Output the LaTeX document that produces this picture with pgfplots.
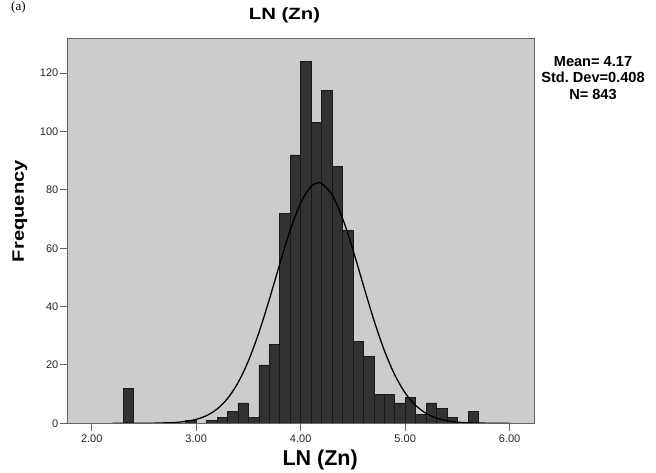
\documentclass[border=0pt]{standalone}
\usepackage{pgfplots}
\pgfplotsset{compat=1.18}
\usepackage{graphicx}
\usepackage{fontspec}
\setmainfont{Liberation Sans}
\newfontfamily\serifa{Liberation Serif}

\definecolor{plotbg}{RGB}{204,204,204}
\definecolor{barfill}{RGB}{50,50,50}
\definecolor{baredge}{RGB}{25,25,25}
\definecolor{frame}{RGB}{100,100,100}

\begin{document}
\begin{tikzpicture}
\begin{axis}[
    at={(68pt,49.7pt)}, anchor=south west,
    scale only axis,
    width=466pt, height=384.3pt,
    xmin=1.773, xmax=6.233,
    ymin=0, ymax=131.7,
    xtick={2,3,4,5,6},
    ytick={0,20,40,60,80,100,120},
    tick pos=left,
    tick align=outside,
    major tick length=8pt,
    tick style={draw=frame, line width=0.9pt},
    axis line style={draw=frame, line width=1pt},
    axis background/.style={fill=plotbg},
    xticklabel={\pgfmathprintnumber[fixed,fixed zerofill,precision=2]{\tick}},
    yticklabel={\pgfmathprintnumber[fixed,precision=0]{\tick}},
    /pgf/number format/assume math mode=true,
    ticklabel style={font=\fontsize{11}{12}\selectfont, text=black!85},
    yticklabel style={inner sep=1.5pt},
    title={\scalebox{1.25}[1]{\fontsize{16.3}{19}\selectfont\bfseries LN (Zn)}},
    title style={at={(axis description cs:0.4646,1.0468)}, anchor=center},
    xlabel={\fontsize{21.5}{24}\selectfont\bfseries LN (Zn)},
    xlabel style={at={(axis description cs:0.541,-0.0955)}, anchor=center},
    ylabel={\scalebox{1.22}[1]{\fontsize{16.5}{19}\selectfont\bfseries Frequency}},
    ylabel style={at={(axis description cs:-0.103,0.552)}, anchor=center},
    axis on top,
]

% histogram, bin width 0.1 (left edge, count); last row closes the interval
\addplot[ybar interval, fill=barfill, draw=baredge, line width=0.6pt] coordinates {
    (2.3,12) (2.4,12)
};
\addplot[ybar interval, fill=barfill, draw=baredge, line width=0.6pt] coordinates {
    (2.9,1) (3.0,1)
};
\addplot[ybar interval, fill=barfill, draw=baredge, line width=0.6pt] coordinates {
    (3.1,1) (3.2,2) (3.3,4) (3.4,7) (3.5,2) (3.6,20) (3.7,27) (3.8,72)
    (3.9,92) (4.0,124) (4.1,103) (4.2,114) (4.3,88) (4.4,66) (4.5,28)
    (4.6,23) (4.7,10) (4.8,10) (4.9,7) (5.0,9) (5.1,3) (5.2,7) (5.3,5)
    (5.4,2) (5.5,2)
};
\addplot[ybar interval, fill=barfill, draw=baredge, line width=0.6pt] coordinates {
    (5.6,4) (5.7,4)
};

% fitted normal curve, mean 4.17, sd 0.408, N 843
\addplot[black, line width=1.3pt, smooth] coordinates {
    (2.2,0.001) (2.4,0.007) (2.6,0.05) (2.8,0.29) (2.9,0.65)
    (3.0,1.35) (3.1,2.65) (3.2,4.88) (3.3,8.49) (3.4,13.89) (3.5,21.41)
    (3.6,31.06) (3.7,42.46) (3.8,54.64) (3.9,66.22) (4.0,75.58) (4.1,81.23)
    (4.17,82.43) (4.2,82.21) (4.3,78.35) (4.4,70.32) (4.5,59.44) (4.6,47.30)
    (4.7,35.45) (4.8,25.02) (4.9,16.63) (5.0,10.41) (5.1,6.14) (5.2,3.41)
    (5.3,1.78) (5.4,0.88) (5.5,0.41) (5.6,0.18) (5.8,0.03) (6.0,0.002)
};
\end{axis}

% statistics box to the right of the plot
\node[align=center, font=\fontsize{14.6}{16.7}\selectfont\bfseries, anchor=center]
    at (593pt,395pt) {Mean= 4.17\\Std.\ Dev=0.408\\N= 843};

\node[anchor=north west, inner sep=1pt, font=\serifa\fontsize{13}{15}\selectfont] at (10pt,473pt) {(a)};

\pgfresetboundingbox
\path[use as bounding box] (0,0) rectangle (656pt,473pt);
\end{tikzpicture}
\end{document}
